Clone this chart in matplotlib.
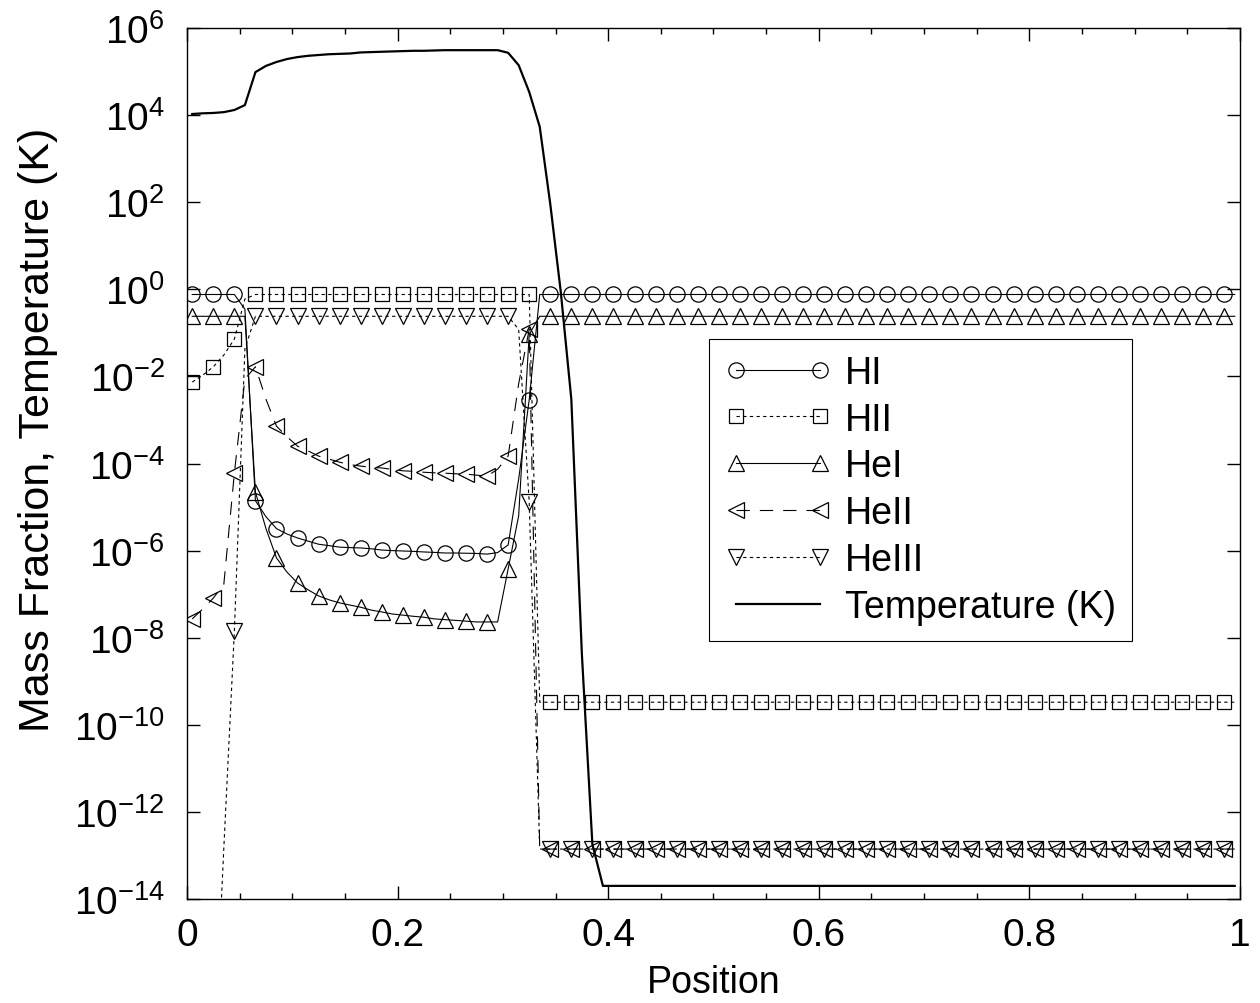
import matplotlib
matplotlib.use("Agg")
import matplotlib.pyplot as plt
from matplotlib.ticker import FixedLocator, MultipleLocator, FuncFormatter, NullLocator
import numpy as np

plt.rcParams['font.family'] = ['Liberation Sans', 'DejaVu Sans']
plt.rcParams['mathtext.fontset'] = 'custom'
plt.rcParams['mathtext.rm'] = 'Liberation Sans'
plt.rcParams['mathtext.it'] = 'Liberation Sans:italic'
plt.rcParams['mathtext.bf'] = 'Liberation Sans:bold'

# cell centres of the 100-zone grid
position = np.linspace(0.005, 0.995, 100)

# species mass fractions per zone
HI = ([0.76] * 5 + [0.35, 1.4e-5, 6.0e-6, 3.2e-6, 2.4e-6, 1.95e-6, 1.65e-6, 1.4e-6,
      1.3e-6, 1.2e-6, 1.17e-6, 1.15e-6, 1.1e-6, 1.03e-6, 1.0e-6, 9.8e-7, 9.6e-7,
      9.3e-7, 9.1e-7, 8.8e-7, 8.8e-7, 8.7e-7, 8.6e-7, 8.3e-7, 9.0e-7, 1.35e-6,
      4.4e-5, 2.9e-3] + [0.76] * 67)
HII = ([7.4e-3, 1.07e-2, 1.66e-2, 3.1e-2, 7.2e-2, 0.6] + [0.76] * 27
       + [3.3e-10] * 67)
HeI = ([0.24] * 6 + [2.2e-5, 3.2e-6, 6.8e-7, 3.2e-7, 1.8e-7, 1.26e-7, 9.1e-8, 7.4e-8,
       6.3e-8, 5.6e-8, 5.0e-8, 4.3e-8, 3.9e-8, 3.5e-8, 3.3e-8, 3.1e-8, 2.95e-8,
       2.7e-8, 2.6e-8, 2.5e-8, 2.4e-8, 2.3e-8, 2.3e-8, 2.3e-8, 3.8e-7, 6.3e-6,
       9.3e-2] + [0.24] * 67)
HeII = ([2.7e-8, 4.6e-8, 8.1e-8, 1.7e-7, 6.0e-5, 8.7e-3, 1.66e-2, 3.0e-3, 7.2e-4,
        4.1e-4, 2.5e-4, 1.95e-4, 1.48e-4, 1.26e-4, 1.07e-4, 9.4e-5, 8.7e-5, 8.2e-5,
        7.9e-5, 7.3e-5, 6.8e-5, 6.6e-5, 6.3e-5, 6.1e-5, 6.0e-5, 5.8e-5, 5.7e-5,
        5.4e-5, 5.1e-5, 7.4e-5, 1.48e-4, 6.8e-3, 0.12] + [1.4e-13] * 67)
HeIII = ([1e-20, 1e-20, 1e-18, 1.5e-13, 1.4e-8, 4.3e-2] + [0.24] * 25
         + [0.12, 1.3e-5] + [1.4e-13] * 67)

# gas temperature in K
temperature = ([1.06e4, 1.1e4, 1.12e4, 1.17e4, 1.31e4, 1.7e4, 9.7e4, 1.35e5, 1.66e5,
               1.94e5, 2.15e5, 2.3e5, 2.4e5, 2.5e5, 2.55e5, 2.6e5, 2.75e5, 2.8e5,
               2.85e5, 2.9e5, 2.95e5, 3.0e5, 3.0e5, 3.05e5, 3.1e5, 3.1e5, 3.1e5,
               3.1e5, 3.1e5, 3.1e5, 2.7e5, 1.4e5, 3.4e4, 5.4e3, 91.0, 0.87, 3.0e-3,
               4.3e-9, 1.8e-13] + [2.0e-14] * 61)

fig = plt.figure(figsize=(12.6, 10.04), dpi=100)
ax = fig.add_axes([0.1484, 0.1036, 0.8357, 0.8675])

line_kw = dict(color='black', lw=0.8, mfc='none', mec='black', mew=0.9, markevery=2)
ax.plot(position, HI, '-', marker='o', ms=11, label='HI', **line_kw)
ax.plot(position, HII, marker='s', ms=9.5, dashes=(3, 3), label='HII', **line_kw)
ax.plot(position, HeI, '-', marker='^', ms=11, label='HeI', **line_kw)
ax.plot(position, HeII, marker='<', ms=11, dashes=(12, 9), label='HeII', **line_kw)
ax.plot(position, HeIII, marker='v', ms=11, dashes=(3, 3), label='HeIII', **line_kw)
ax.plot(position, temperature, '-', color='black', lw=1.6, label='Temperature (K)')

ax.set_yscale('log')
ax.set_xlim(0, 1)
ax.set_ylim(1e-14, 1e6)

ax.yaxis.set_major_locator(FixedLocator(10.0 ** np.arange(-14, 7, 2)))
ax.yaxis.set_minor_locator(NullLocator())
ax.yaxis.set_major_formatter(FuncFormatter(
    lambda v, p: r'$\mathdefault{10^{%d}}$' % round(np.log10(v))))
ax.xaxis.set_major_locator(MultipleLocator(0.2))
ax.xaxis.set_minor_locator(MultipleLocator(0.05))
ax.xaxis.set_major_formatter(FuncFormatter(lambda v, p: '%g' % round(v, 2)))

ax.tick_params(which='both', direction='in', top=True, right=True, width=1.0,
               labelsize=28)
ax.tick_params(which='major', length=9.5)
ax.tick_params(which='minor', length=4.5)
ax.tick_params(axis='x', pad=13)
ax.tick_params(axis='y', pad=16)
for sp in ax.spines.values():
    sp.set_linewidth(1.0)

ax.set_xlabel('Position', fontsize=27, labelpad=8)
ax.set_ylabel('Mass Fraction, Temperature (K)', fontsize=31, va='center')
ax.yaxis.set_label_coords(-0.1415, 0.54)

leg = ax.legend(loc='upper left', bbox_to_anchor=(0.496, 0.643), borderaxespad=0,
                fontsize=27, numpoints=2, handlelength=2.82, handletextpad=0.37,
                labelspacing=0.29, borderpad=0.42, fancybox=False, framealpha=1,
                edgecolor='black')
leg.get_frame().set_linewidth(0.8)

fig.savefig('out.png', dpi=100)
